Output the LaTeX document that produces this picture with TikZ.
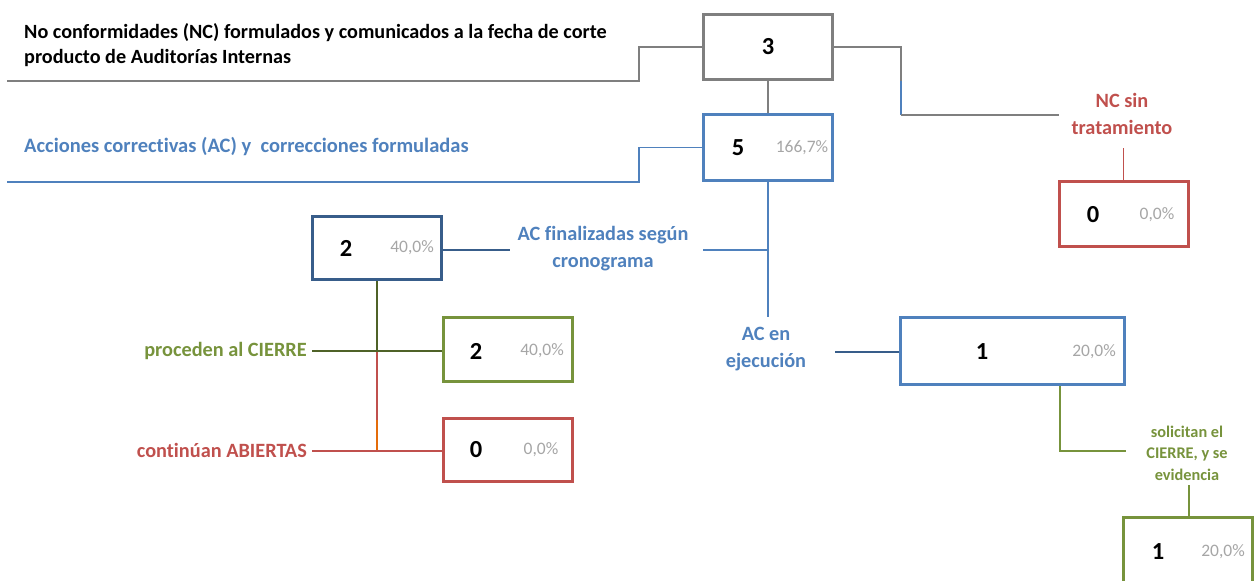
\documentclass[tikz,border=0pt]{standalone}
\usepackage{fontspec}
\setmainfont[Ligatures=NoCommon]{Carlito}
\definecolor{cgray}{HTML}{7F7F7F}
\definecolor{cblue}{HTML}{4F81BD}
\definecolor{cdblue}{HTML}{385D8A}
\definecolor{cred}{HTML}{C0504D}
\definecolor{cgreen}{HTML}{77933C}
\definecolor{colive}{HTML}{4F6228}
\definecolor{corange}{HTML}{E46C0A}
\definecolor{cpct}{HTML}{A6A6A6}
\tikzset{
  box/.style={draw=#1, line width=3pt, fill=white, minimum width=129pt, minimum height=65pt, inner sep=0pt},
  num/.style={font=\fontsize{24.5}{24.5}\selectfont\bfseries, text=black, inner sep=0pt},
  pct/.style={font=\fontsize{17.5}{17.5}\selectfont, text=cpct, inner sep=0pt},
  lbl/.style={font=\fontsize{20.3}{26.5}\selectfont\bfseries, align=center, inner sep=0pt},
  slbl/.style={font=\fontsize{16.3}{21.5}\selectfont\bfseries, align=center, inner sep=0pt},
  conn/.style={line width=1.8pt},
}
\begin{document}
\begin{tikzpicture}[x=1pt,y=-1pt]
\useasboundingbox (0,0) rectangle (1254,581);

% boxes
\node[box=cgray, line width=3.5pt] (n3) at (768,47) {};
\node[box=cblue, minimum height=66pt] (n5) at (768,147.5) {};
\node[box=cred] (nc) at (1123.5,214) {};
\node[box=cdblue, minimum height=63pt] (n2) at (377,248) {};
\node[box=cgreen, minimum height=64pt] (g2) at (507.5,349.5) {};
\node[box=cred, minimum height=63pt] (r0) at (507.5,450) {};
\node[box=cblue, minimum width=224pt, minimum height=67pt] (b1) at (1012.5,351) {};
\node[box=cgreen] (e1) at (1188,550) {};

% numbers and percentages
\node[num] (v3) at (768,47) {3};
\node[num] (v5) at (738,148) {5};
\node[pct] (p5) at (802,148) {166,7\%};
\node[num] (vnc) at (1093,215) {0};
\node[pct] (pnc) at (1157,215) {0,0\%};
\node[num] (v2) at (346,248) {2};
\node[pct] (p2) at (412,248) {40,0\%};
\node[num] (vg2) at (476,351) {2};
\node[pct] (pg2) at (542,351) {40,0\%};
\node[num] (vr0) at (476,450) {0};
\node[pct] (pr0) at (541,450) {0,0\%};
\node[num] (vb1) at (982,352) {1};
\node[pct] (pb1) at (1094,352) {20,0\%};
\node[num] (ve1) at (1158,552) {1};
\node[pct] (pe1) at (1223,552) {20,0\%};

% labels
\node[lbl, text=black, anchor=west, align=left, font=\fontsize{20.2}{25}\selectfont\bfseries] (t1) at (24,45.5) {No conformidades (NC) formulados y comunicados a la fecha de corte\\producto de Auditorías Internas};
\node[lbl, text=cblue, anchor=west, font=\fontsize{20.5}{25}\selectfont\bfseries] (t2) at (24,147) {Acciones correctivas (AC) y\ \ correcciones formuladas};
\node[lbl, text=cred] (ncs) at (1122,114) {NC sin\\tratamiento};
\node[lbl, text=cblue] (acf) at (603,248.5) {AC finalizadas según\\cronograma};
\node[lbl, text=cgreen, anchor=east] (proc) at (307,351) {proceden al CIERRE};
\node[lbl, text=cred, anchor=east] (cont) at (307,450) {continúan ABIERTAS};
\node[lbl, text=cblue] (ace) at (766,349) {AC en\\ejecución};
\node[slbl, text=cgreen] (sol) at (1187,453) {solicitan el\\CIERRE, y se\\evidencia};

% free ends
\coordinate (g1) at (7,81);
\coordinate (k1) at (901,81);
\coordinate (k2) at (901,115);
\coordinate (g3) at (1059,115);
\coordinate (b0) at (7,182);
\coordinate (j1) at (768,317);
\coordinate (af) at (703,250);
\coordinate (af2) at (510,250);
\coordinate (o1) at (377,351);
\coordinate (o2) at (377,420);
\coordinate (o3) at (377,451);
\coordinate (pc) at (312,351);
\coordinate (ca) at (312,451);
\coordinate (ae) at (835,352);
\coordinate (s1) at (1126,451);
\coordinate (s2) at (1189,485);
\coordinate (s3) at (1123.5,148);

% connectors
\draw[conn,cgray] (n3.west) -- ++(-63,0) |- (g1);
\draw[conn,cgray] (n3.east) -| (k1);
\draw[conn,cblue] (k1) -- (k2);
\draw[conn,cgray] (k2) -- (g3);
\draw[conn,cgray] (n3.south) -- (n5.north);
\draw[conn,cblue] (n5.west) -- ++(-63,0) |- (b0);
\draw[conn,cblue] (n5.south) -- (j1);
\draw[conn,cblue] (af) -- (af -| n5.south);
\draw[conn,cdblue] (n2.east |- af2) -- (af2);
\draw[conn,colive] (n2.south) -- (o1);
\draw[conn,cred] (o1) -- (o2);
\draw[conn,corange] (o2) -- (o3);
\draw[conn,colive] (pc) -- (pc -| g2.west);
\draw[conn,cred] (ca) -- (ca -| r0.west);
\draw[conn,cdblue] (ae) -- (ae -| b1.west);
\draw[conn,cgreen] ([xshift=47.5pt]b1.south) |- (s1);
\draw[conn,cgreen] (s2) -- (s2 |- e1.north);
\draw[conn,cred] (s3) -- (nc.north);
\end{tikzpicture}
\end{document}
